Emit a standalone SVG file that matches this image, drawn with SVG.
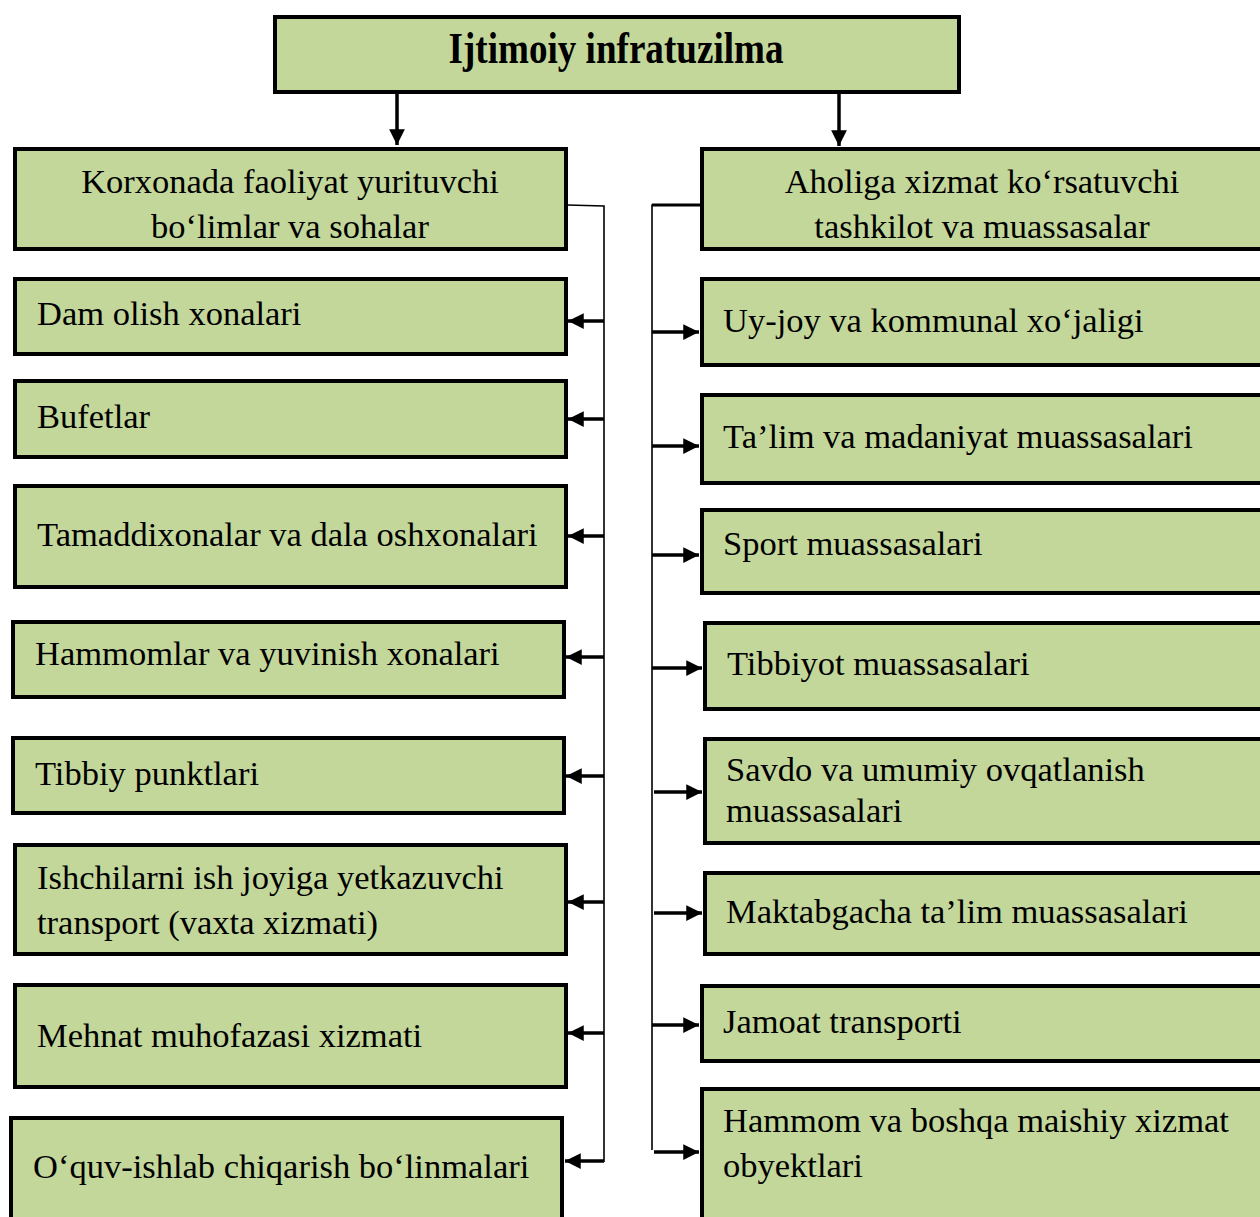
<svg xmlns="http://www.w3.org/2000/svg" width="1260" height="1217" viewBox="0 0 1260 1217">
<defs>
<style>
.box{fill:#C4D79B;stroke:#000;stroke-width:4}
.t{font-family:"Liberation Serif","Times New Roman",serif;font-size:34.5px;fill:#000}
.c{text-anchor:middle}
.title{font-family:"Liberation Serif","Times New Roman",serif;font-size:44px;font-weight:bold;text-anchor:middle}
.thin{stroke:#000;stroke-width:1.6;fill:none}
.arr{stroke:#000;stroke-width:3.5;fill:none}
</style>
<marker id="ah" viewBox="0 0 10 10" refX="10" refY="5" markerWidth="4.5" markerHeight="4.5" markerUnits="strokeWidth" orient="auto">
<path d="M0,0 L10,5 L0,10 z" fill="#000"/>
</marker>
</defs>
<rect width="1260" height="1217" fill="#fff"/>

<g id="connectors">
<line class="arr" x1="397" y1="93" x2="397" y2="145" marker-end="url(#ah)" stroke-width="3"/>
<line class="arr" x1="839" y1="93" x2="839" y2="146" marker-end="url(#ah)" stroke-width="3"/>
<polyline class="thin" points="567,205 604,206 604,1162"/>
<polyline class="thin" points="700,205 652,205 652,1150" />
<line x1="652" y1="205" x2="700" y2="205" stroke="#000" stroke-width="3"/>
<line class="arr" x1="604" y1="321" x2="568" y2="321" marker-end="url(#ah)"/>
<line class="arr" x1="604" y1="419" x2="568" y2="419" marker-end="url(#ah)"/>
<line class="arr" x1="604" y1="536" x2="568" y2="536" marker-end="url(#ah)"/>
<line class="arr" x1="604" y1="657" x2="566" y2="657" marker-end="url(#ah)"/>
<line class="arr" x1="604" y1="776" x2="566" y2="776" marker-end="url(#ah)"/>
<line class="arr" x1="604" y1="902" x2="568" y2="902" marker-end="url(#ah)"/>
<line class="arr" x1="604" y1="1033" x2="568" y2="1033" marker-end="url(#ah)"/>
<line class="arr" x1="604" y1="1161" x2="565" y2="1161" marker-end="url(#ah)"/>
<line class="arr" x1="652" y1="332" x2="699" y2="332" marker-end="url(#ah)"/>
<line class="arr" x1="652" y1="446" x2="699" y2="446" marker-end="url(#ah)"/>
<line class="arr" x1="652" y1="555" x2="699" y2="555" marker-end="url(#ah)"/>
<line class="arr" x1="652" y1="668" x2="702" y2="668" marker-end="url(#ah)"/>
<line class="arr" x1="654" y1="792" x2="702" y2="792" marker-end="url(#ah)"/>
<line class="arr" x1="654" y1="913" x2="702" y2="913" marker-end="url(#ah)"/>
<line class="arr" x1="652" y1="1025" x2="699" y2="1025" marker-end="url(#ah)"/>
<line class="arr" x1="654" y1="1152" x2="699" y2="1152" marker-end="url(#ah)"/>
</g>

<g id="n-root"><rect class="box" x="275" y="17" width="684" height="75"/><text class="title" x="616" y="63" textLength="335" lengthAdjust="spacingAndGlyphs">Ijtimoiy infratuzilma</text></g>

<g id="n-left"><rect class="box" x="15" y="149" width="551" height="100"/><text class="t c" x="290" y="193">Korxonada faoliyat yurituvchi</text><text class="t c" x="290" y="238">bo‘limlar va sohalar</text></g>
<g id="n-l1"><rect class="box" x="15" y="279" width="551" height="75"/><text class="t" x="37" y="325">Dam olish xonalari</text></g>
<g id="n-l2"><rect class="box" x="15" y="381" width="551" height="76"/><text class="t" x="37" y="428">Bufetlar</text></g>
<g id="n-l3"><rect class="box" x="15" y="486" width="551" height="101"/><text class="t" x="37" y="546">Tamaddixonalar va dala oshxonalari</text></g>
<g id="n-l4"><rect class="box" x="13" y="622" width="551" height="75"/><text class="t" x="35" y="665">Hammomlar va yuvinish xonalari</text></g>
<g id="n-l5"><rect class="box" x="13" y="738" width="551" height="75"/><text class="t" x="35" y="785">Tibbiy punktlari</text></g>
<g id="n-l6"><rect class="box" x="15" y="845" width="551" height="109"/><text class="t" x="37" y="889">Ishchilarni ish joyiga yetkazuvchi</text><text class="t" x="37" y="934">transport (vaxta xizmati)</text></g>
<g id="n-l7"><rect class="box" x="15" y="985" width="551" height="102"/><text class="t" x="37" y="1047">Mehnat muhofazasi xizmati</text></g>
<g id="n-l8"><rect class="box" x="11" y="1118" width="551" height="110"/><text class="t" x="33" y="1178">O‘quv-ishlab chiqarish bo‘linmalari</text></g>

<g id="n-right"><rect class="box" x="702" y="149" width="570" height="100"/><text class="t c" x="982" y="193">Aholiga xizmat ko‘rsatuvchi</text><text class="t c" x="982" y="238">tashkilot va muassasalar</text></g>
<g id="n-r1"><rect class="box" x="702" y="279" width="570" height="86"/><text class="t" x="723" y="332">Uy-joy va kommunal xo‘jaligi</text></g>
<g id="n-r2"><rect class="box" x="702" y="395" width="570" height="88"/><text class="t" x="723" y="448">Ta’lim va madaniyat muassasalari</text></g>
<g id="n-r3"><rect class="box" x="702" y="510" width="570" height="83"/><text class="t" x="723" y="555">Sport muassasalari</text></g>
<g id="n-r4"><rect class="box" x="705" y="623" width="570" height="86"/><text class="t" x="727" y="675">Tibbiyot muassasalari</text></g>
<g id="n-r5"><rect class="box" x="705" y="739" width="570" height="104"/><text class="t" x="726" y="781">Savdo va umumiy ovqatlanish</text><text class="t" x="726" y="822">muassasalari</text></g>
<g id="n-r6"><rect class="box" x="705" y="873" width="570" height="81"/><text class="t" x="726" y="923">Maktabgacha ta’lim muassasalari</text></g>
<g id="n-r7"><rect class="box" x="702" y="986" width="570" height="75"/><text class="t" x="723" y="1033">Jamoat transporti</text></g>
<g id="n-r8"><rect class="box" x="702" y="1089" width="570" height="140"/><text class="t" x="723" y="1132">Hammom va boshqa maishiy xizmat</text><text class="t" x="723" y="1177">obyektlari</text></g>
</svg>
